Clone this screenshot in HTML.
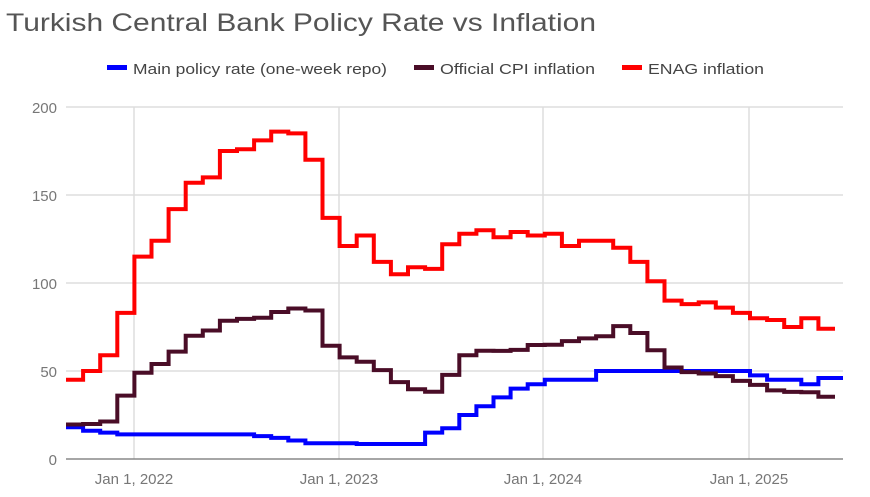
<!DOCTYPE html>
<html><head><meta charset="utf-8"><style>
body{margin:0;background:#fff;width:870px;height:492px;overflow:hidden;font-family:"Liberation Sans",sans-serif}
</style></head><body>
<svg id="s" width="870" height="492" xmlns="http://www.w3.org/2000/svg" font-family="Liberation Sans, sans-serif">
<text x="6" y="31" font-size="25" fill="#555" textLength="590" lengthAdjust="spacingAndGlyphs">Turkish Central Bank Policy Rate vs Inflation</text>
<g font-size="14.5" fill="#444">
<rect x="107" y="65" width="20" height="5" fill="#0000ff"/><text x="133" y="74" textLength="254" lengthAdjust="spacingAndGlyphs">Main policy rate (one-week repo)</text>
<rect x="414" y="65" width="20" height="5" fill="#4a0d27"/><text x="440" y="74" textLength="155" lengthAdjust="spacingAndGlyphs">Official CPI inflation</text>
<rect x="622" y="65" width="20" height="5" fill="#ff0000"/><text x="648" y="74" textLength="116" lengthAdjust="spacingAndGlyphs">ENAG inflation</text>
</g>
<g stroke="#ddd" stroke-width="1.5">
<line x1="66" x2="843" y1="107" y2="107"/><line x1="66" x2="843" y1="195" y2="195"/>
<line x1="66" x2="843" y1="283" y2="283"/><line x1="66" x2="843" y1="371" y2="371"/>
<line x1="134" x2="134" y1="107" y2="459"/><line x1="339" x2="339" y1="107" y2="459"/>
<line x1="543" x2="543" y1="107" y2="459"/><line x1="749" x2="749" y1="107" y2="459"/>
</g>
<line x1="66" x2="843" y1="459" y2="459" stroke="#888" stroke-width="1.5"/>
<g font-size="15" fill="#777" text-anchor="end">
<text x="57" y="113">200</text><text x="57" y="201">150</text><text x="57" y="289">100</text><text x="57" y="377">50</text><text x="57" y="465">0</text>
</g>
<g font-size="15" fill="#777" text-anchor="middle">
<text x="134" y="484">Jan 1, 2022</text><text x="339" y="484">Jan 1, 2023</text><text x="543" y="484">Jan 1, 2024</text><text x="749" y="484">Jan 1, 2025</text>
</g>
<g id="lines" fill="none" stroke-width="4" stroke-linejoin="miter"></g>
</svg>
<script>
var enag=[45,50,59,83,115,124,142,157,160,175,176,181,186,185,170,137,121,127,112,105,109,108,122,128,130,126,129,127,128,121,124,124,120,112,101,90,88,89,86,83,80,79,75,80,74];
var cpi=[19.6,19.9,21.3,36,49,54,61,70,73,78.6,79.6,80.2,83.5,85.5,84.4,64.3,57.7,55.2,50.5,43.7,39.6,38.2,47.8,58.9,61.5,61.4,62,64.8,64.9,67,68.5,69.8,75.5,71.6,61.8,52,49.4,48.6,47.1,44.4,42.1,39,38.1,37.9,35.4];
var pol=[18,16,15,14,14,14,14,14,14,14,14,13,12,10.5,9,9,9,8.5,8.5,8.5,8.5,15,17.5,25,30,35,40,42.5,45,45,45,50,50,50,50,50,50,50,50,50,47.5,45,45,42.5,46,46];
function p(d,end){var s="",w=17.1;for(var i=0;i<d.length;i++){var x0=66+i*w,x1=Math.min(66+(i+1)*w,end),y=459-d[i]*1.76;s+=(i?"L":"M")+x0.toFixed(1)+","+y.toFixed(1)+"L"+x1.toFixed(1)+","+y.toFixed(1);}return s;}
var g=document.getElementById("lines");
[[pol,"#0000ff",843],[cpi,"#4a0d27",835],[enag,"#ff0000",835]].forEach(function(a){var e=document.createElementNS("http://www.w3.org/2000/svg","path");e.setAttribute("d",p(a[0],a[2]));e.setAttribute("stroke",a[1]);g.appendChild(e);});
</script>
</body></html>
